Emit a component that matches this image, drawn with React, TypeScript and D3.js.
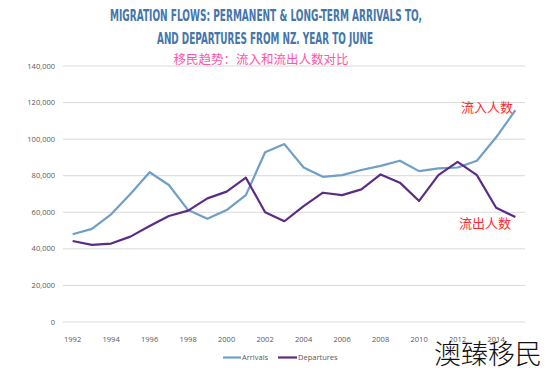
import * as d3 from 'd3';

const years = d3.range(1992, 2016);
const arrivals = [48000, 50900, 58900, 70000, 81900, 74900, 61200, 56500, 61200, 69400, 92800, 97300, 84500, 79400, 80300, 83100, 85400, 88200, 82500, 84000, 84500, 88200, 101000, 115800];
const departures = [44300, 42200, 42900, 46700, 52500, 58000, 60900, 67600, 71300, 78900, 60000, 55100, 63400, 70700, 69400, 72500, 80700, 76200, 66200, 80300, 87600, 80300, 62500, 57400];
const yTicks = [0, 20000, 40000, 60000, 80000, 100000, 120000, 140000];
const xTickYears = d3.range(1992, 2015, 2);

const series = [
  { name: 'Arrivals', values: arrivals, color: '#6f9fc8' },
  { name: 'Departures', values: departures, color: '#5b2c86' },
];

export default function App() {
  const width = 550;
  const height = 374;

  const x = d3.scalePoint<number>().domain(years).range([63, 525]).padding(0.5);
  const y = d3.scaleLinear().domain([0, 140000]).range([322, 66]);
  const fmt = d3.format(',');

  const line = (vals: number[]) =>
    d3.line<number>()
      .x((_, i) => x(years[i]) as number)
      .y((d) => y(d))(vals) as string;

  const axisFont = "'Open Sans', 'Liberation Sans', sans-serif";
  const cjk = "'Noto Sans CJK SC', sans-serif";
  const titleFont = "'DejaVu Sans Condensed', 'DejaVu Sans', sans-serif";

  return (
    <svg
      width={width}
      height={height}
      style={{ position: 'absolute', left: 0, top: 0, background: '#fff' }}
    >
      {/* title, squeezed to the reference's narrow display face */}
      <text
        x={266}
        y={21}
        textAnchor="middle"
        fontFamily={titleFont}
        fontWeight="bold"
        fontSize={16.5}
        fill="#4476aa"
        textLength={312}
        lengthAdjust="spacingAndGlyphs"
      >
        MIGRATION FLOWS: PERMANENT &amp; LONG-TERM ARRIVALS TO,
      </text>
      <text
        x={265}
        y={44}
        textAnchor="middle"
        fontFamily={titleFont}
        fontWeight="bold"
        fontSize={16.5}
        fill="#4476aa"
        textLength={216}
        lengthAdjust="spacingAndGlyphs"
      >
        AND DEPARTURES FROM NZ. YEAR TO JUNE
      </text>
      <text x={261} y={64} textAnchor="middle" fontFamily={cjk} fontSize={12.5} fill="#ff55a5">
        移民趋势：流入和流出人数对比
      </text>

      {/* grid + y labels */}
      {yTicks.map((t) => (
        <g key={t}>
          <line x1={63} x2={525} y1={y(t)} y2={y(t)} stroke="#d9d9d9" strokeWidth={1} />
          <text
            x={55}
            y={y(t)}
            dy="0.35em"
            textAnchor="end"
            fontFamily={axisFont}
            fontSize={7.5}
            fill="#595959"
          >
            {fmt(t)}
          </text>
        </g>
      ))}

      {/* x labels */}
      {xTickYears.map((yr) => (
        <text
          key={yr}
          x={x(yr)}
          y={342}
          textAnchor="middle"
          fontFamily={axisFont}
          fontSize={7.5}
          fill="#595959"
        >
          {yr}
        </text>
      ))}

      {/* lines */}
      {series.map((s) => (
        <path
          key={s.name}
          d={line(s.values)}
          fill="none"
          stroke={s.color}
          strokeWidth={2.2}
          strokeLinejoin="round"
        />
      ))}

      {/* legend */}
      <line x1={223} x2={241} y1={357.5} y2={357.5} stroke={series[0].color} strokeWidth={2.2} />
      <text x={242} y={357.5} dy="0.35em" fontFamily={axisFont} fontSize={7.5} fill="#595959">
        Arrivals
      </text>
      <line x1={278} x2={297} y1={357.5} y2={357.5} stroke={series[1].color} strokeWidth={2.2} />
      <text x={298} y={357.5} dy="0.35em" fontFamily={axisFont} fontSize={7.5} fill="#595959">
        Departures
      </text>

      {/* annotations */}
      <text x={461} y={112} fontFamily={cjk} fontSize={13} fill="#ff2a2a">
        流入人数
      </text>
      <text x={459} y={228} fontFamily={cjk} fontSize={13} fill="#ff2a2a">
        流出人数
      </text>

      {/* watermark */}
      <text x={434} y={364} fontFamily={cjk} fontWeight={300} fontSize={27} fill="#111">
        澳臻移民
      </text>
    </svg>
  );
}
